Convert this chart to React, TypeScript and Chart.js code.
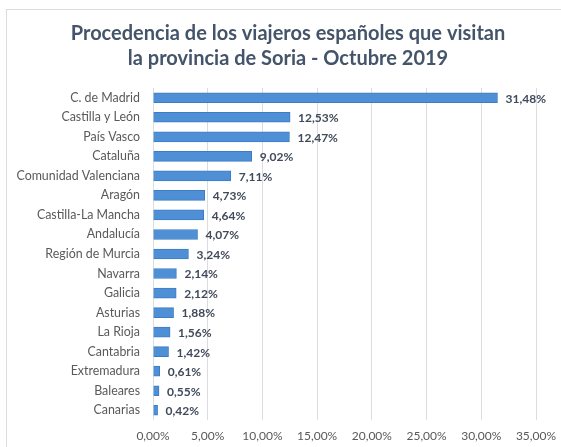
import React, { useEffect, useRef } from "react";
import { Chart, registerables } from "chart.js";

Chart.register(...registerables);

const categories = [
  "C. de Madrid",
  "Castilla y León",
  "País Vasco",
  "Cataluña",
  "Comunidad Valenciana",
  "Aragón",
  "Castilla-La Mancha",
  "Andalucía",
  "Región de Murcia",
  "Navarra",
  "Galicia",
  "Asturias",
  "La Rioja",
  "Cantabria",
  "Extremadura",
  "Baleares",
  "Canarias",
];

const values = [31.48, 12.53, 12.47, 9.02, 7.11, 4.73, 4.64, 4.07, 3.24, 2.14, 2.12, 1.88, 1.56, 1.42, 0.61, 0.55, 0.42];

const titleLines = [
  "Procedencia de los viajeros españoles que visitan",
  "la provincia de Soria - Octubre 2019",
];

const xTicks = [0, 5, 10, 15, 20, 25, 30, 35];

const FONT = "Lato, 'Open Sans', sans-serif";

const fmt = (v: number) => v.toFixed(2).replace(".", ",") + "%";

const framePlugin = {
  id: "frame",
  beforeDraw(chart: any) {
    const ctx = chart.ctx;
    ctx.save();
    ctx.fillStyle = "#ffffff";
    ctx.fillRect(0, 0, chart.width, chart.height);
    ctx.strokeStyle = "#d9dce1";
    ctx.lineWidth = 1;
    ctx.strokeRect(6.5, 9.5, chart.width + 20, chart.height + 20);
    ctx.fillStyle = "#44546a";
    ctx.font = "bold 20px " + FONT;
    ctx.textAlign = "center";
    ctx.textBaseline = "middle";
    titleLines.forEach((t, i) => ctx.fillText(t, 288, 34 + i * 25));
    ctx.restore();
  },
};

const labelPlugin = {
  id: "valueLabels",
  afterDatasetsDraw(chart: any) {
    const ctx = chart.ctx;
    const meta = chart.getDatasetMeta(0);
    ctx.save();
    ctx.fillStyle = "#404a5a";
    ctx.font = "bold 12px " + FONT;
    ctx.textAlign = "left";
    ctx.textBaseline = "middle";
    meta.data.forEach((bar: any, i: number) => {
      ctx.fillText(fmt(values[i]), bar.x + 8, bar.y + 1);
    });
    ctx.restore();
  },
};

export default function App() {
  const ref = useRef<HTMLCanvasElement>(null);
  useEffect(() => {
    if (!ref.current) return;
    const chart = new Chart(ref.current, {
      type: "bar",
      data: {
        labels: categories,
        datasets: [
          {
            data: values,
            backgroundColor: "#4e8fd6",
            borderColor: "#3c7cc3",
            borderWidth: 1,
            barThickness: 10,
          },
        ],
      },
      options: {
        indexAxis: "y",
        responsive: false,
        animation: false,
        devicePixelRatio: 1,
        layout: { padding: { top: 88, right: 25, left: 0, bottom: 0 } },
        plugins: {
          legend: { display: false },
          title: { display: false },
          tooltip: { enabled: false },
        },
        scales: {
          x: {
            min: 0,
            max: 35,
            afterBuildTicks: (s: any) => {
              s.ticks = xTicks.map((v) => ({ value: v }));
            },
            afterFit: (s: any) => {
              s.height = 27;
              s.paddingLeft = 0;
              s.paddingRight = 0;
            },
            grid: { color: "#d9dce1", drawTicks: false },
            border: { display: false },
            ticks: {
              padding: 9,
              color: "#595959",
              font: { family: FONT, size: 12 },
              callback: (v: any) => fmt(Number(v)),
            },
          },
          y: {
            afterFit: (s: any) => {
              s.width = 153;
              s.paddingTop = 0;
              s.paddingBottom = 0;
            },
            grid: { display: false, drawTicks: false },
            border: { display: false },
            ticks: {
              padding: 13,
              color: "#595959",
              font: { family: FONT, size: 12.4 },
            },
          },
        },
      },
      plugins: [framePlugin, labelPlugin],
    });
    return () => chart.destroy();
  }, []);
  return (
    <div style={{ position: "absolute", left: 0, top: 0, width: 561, height: 447 }}>
      <canvas ref={ref} width={561} height={447} style={{ width: 561, height: 447 }} />
    </div>
  );
}
